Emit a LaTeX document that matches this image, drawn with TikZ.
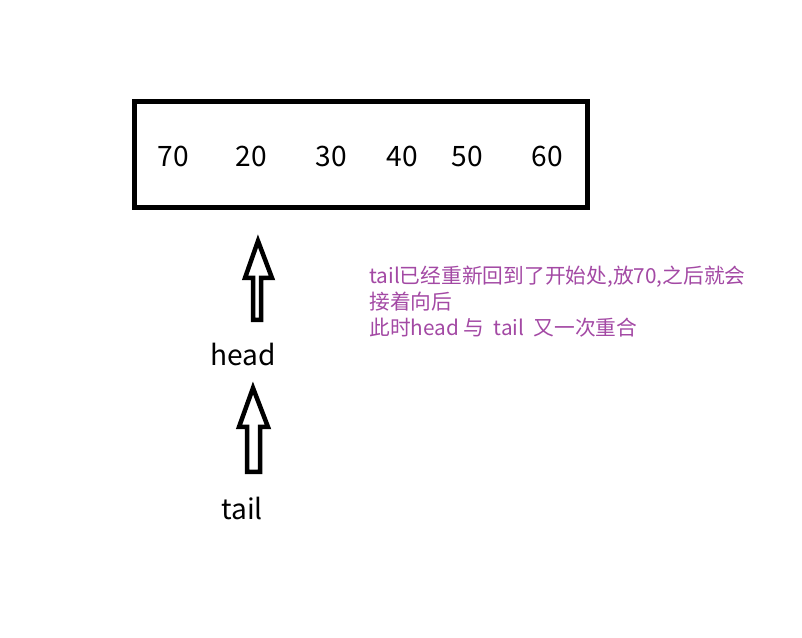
\documentclass[tikz,border=0pt]{standalone}
\usepackage{fontspec}
\setmainfont{Noto Sans CJK SC}
\usepackage{xcolor}
\definecolor{notepurple}{RGB}{163,73,164}

\begin{document}
\begin{tikzpicture}[x=0.02cm,y=-0.02cm,
  num/.style={inner sep=0pt, font=\fontsize{16}{19}\selectfont},
  ptr/.style={inner sep=0pt, font=\fontsize{16}{19}\selectfont},
  hollow/.style={line width=0.09cm, line join=miter},
  note/.style={inner sep=0pt, anchor=base west, notepurple, font=\fontsize{11.8}{14}\selectfont}]
\useasboundingbox (0,0) rectangle (802,638);
% the queue
\draw [line width=0.1cm] (134.5,101.5) rectangle (587.5,207.5);
\foreach \v/\x in {70/173, 20/251, 30/331, 40/402, 50/467, 60/547}
  \node (n\v) [num] at (\x,156) {\v};
% head pointer
\draw [hollow] (258,241) -- (272,278) -- (261,278) -- (261,320) -- (253,320) -- (253,278) -- (245,278) -- cycle;
\node (head) [ptr] at (243,354) {head};
% tail pointer
\draw [hollow] (253,388) -- (268,427) -- (260,427) -- (260,472) -- (247,472) -- (247,427) -- (239,427) -- cycle;
\node (tail) [ptr] at (242,508) {tail};
% remark
\node (note1) [note] at (369,284) {tail已经重新回到了开始处,放70,之后就会};
\node (note2) [note] at (369,310) {接着向后};
\node (note3) [note] at (369,336) {此时head 与\ \ tail\ \ 又一次重合};

\end{tikzpicture}
\end{document}
